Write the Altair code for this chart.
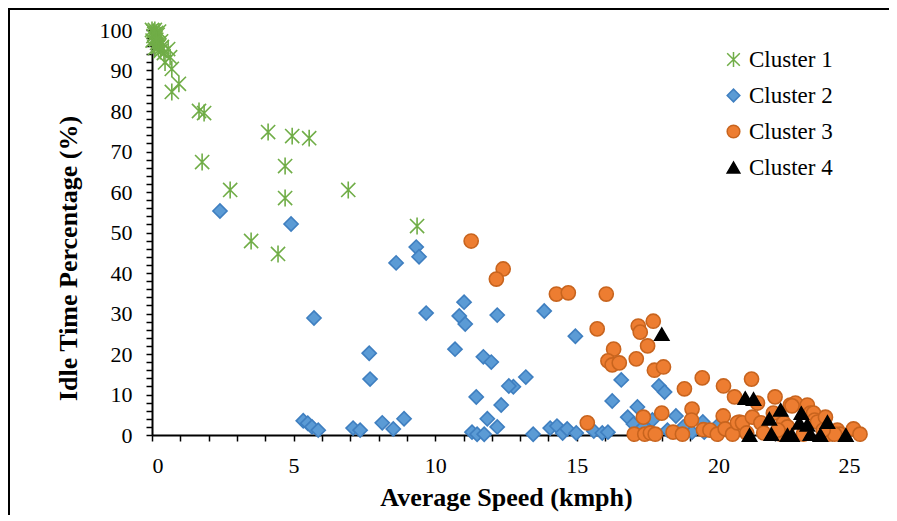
import altair as alt
import pandas as pd

clusters = ["Cluster 1", "Cluster 2", "Cluster 3", "Cluster 4"]

c1_x = [0.00, 0.05, 0.10, 0.15, 0.05, 0.12, 0.20, 0.02, 0.18, 0.26, 0.32, 0.10, 0.30, 0.42, 0.22, 0.08, 0.25, 0.35, 0.15,
        0.57, 0.64, 0.46, 0.70, 0.95, 0.70, 1.66, 1.84, 4.10, 4.95, 5.55, 1.77, 4.70, 2.76, 6.93, 4.70, 9.36, 3.50, 4.45]
c1_y = [100.0, 99.6, 100.0, 99.3, 98.5, 98.0, 98.8, 97.4, 96.8, 96.2, 97.2, 95.5, 94.8, 94.3, 95.8, 99.0, 99.6, 95.8, 97.6,
        95.3, 93.3, 92.0, 90.4, 86.7, 84.7, 80.0, 79.5, 74.8, 73.8, 73.3, 67.4, 66.4, 60.5, 60.5, 58.5, 51.6, 47.9, 44.7]

c2_x = [2.40, 4.91, 5.72, 9.33, 9.43, 8.62, 9.68, 11.02, 10.85, 11.06, 12.19, 13.85, 14.95, 7.67, 7.70, 10.70, 11.70,
        11.98, 13.20, 12.76, 12.60, 11.45, 12.33, 11.84, 12.19, 8.90, 8.13, 8.52, 7.10, 7.35, 11.30, 11.48, 11.73, 13.46,
        14.06, 14.30, 14.50, 14.66, 14.98, 5.34, 5.50, 5.65, 5.87, 15.60, 15.90, 16.10, 16.57, 16.25, 17.90, 18.10, 17.14,
        16.80, 17.00, 18.50, 19.45, 17.67, 18.20, 18.76, 19.07, 20.00, 17.35, 19.50]
c2_y = [55.3, 52.1, 28.9, 46.4, 44.0, 42.5, 30.1, 32.8, 29.4, 27.4, 29.6, 30.6, 24.4, 20.2, 13.8, 21.2, 19.3,
        18.0, 14.3, 11.9, 12.1, 9.4, 7.4, 4.0, 2.0, 4.0, 3.0, 1.5, 1.7, 1.2, 0.7, 0.2, 0.2, 0.2,
        1.7, 2.2, 0.5, 1.5, 0.5, 3.5, 2.9, 2.0, 1.2, 1.0, 0.5, 0.7, 13.6, 8.4, 12.1, 10.6, 6.9,
        4.4, 2.7, 4.7, 3.2, 3.7, 1.2, 2.0, 0.7, 2.5, 2.0, 0.7]

c3_x = [11.27, 12.40, 12.16, 14.28, 14.70, 16.04, 15.72, 17.17, 17.24, 17.70, 17.50, 16.30, 16.10, 16.25, 16.50, 17.10,
        17.74, 18.06, 18.80, 19.43, 20.18, 20.57, 21.17, 21.38, 22.00, 15.37, 17.35, 18.00, 19.07, 19.05, 20.17, 20.74,
        17.03, 17.40, 17.60, 17.77, 18.40, 18.73, 19.47, 19.70, 19.96, 20.24, 20.50, 20.67, 20.85, 21.20, 21.50, 21.60,
        21.94, 22.30, 22.44, 22.54, 22.72, 22.60, 23.14, 23.25, 23.36, 23.40, 23.50, 23.78, 23.96, 24.20, 24.30, 24.77,
        25.00, 21.00, 22.20, 23.00, 23.90, 24.10, 22.10, 23.70]
c3_y = [47.9, 41.0, 38.5, 34.8, 35.1, 34.8, 26.2, 26.9, 25.4, 28.1, 22.0, 21.2, 18.3, 17.3, 17.8, 18.8,
        16.0, 16.8, 11.4, 14.1, 12.1, 9.4, 13.8, 7.9, 9.4, 3.0, 4.4, 5.4, 6.4, 3.7, 4.7, 3.2,
        0.2, 0.2, 0.5, 0.2, 0.7, 0.2, 1.3, 1.2, 0.2, 1.5, 0.2, 3.0, 3.0, 4.4, 3.0, 0.5,
        5.4, 3.0, 2.0, 7.4, 7.9, 7.2, 7.4, 5.4, 5.4, 3.7, 3.2, 4.4, 0.5, 1.2, 0.2, 1.5,
        0.2, 0.5, 0.2, 0.2, 0.2, 0.2, 1.2, 1.2]

c4_x = [18.00, 20.95, 21.24, 22.20, 21.80, 22.93, 23.14, 22.86, 23.85, 21.10, 21.87, 22.44, 22.60, 23.25, 23.60, 24.50]
c4_y = [24.9, 9.1, 8.9, 6.2, 4.0, 5.4, 2.5, 3.0, 3.2, 0.0, 0.2, 0.0, 0.0, 0.2, 0.0, 0.0]

x_ticks = list(range(0, 26))
y_ticks = list(range(0, 101, 2))

frames = []
for name, xs, ys in zip(clusters, [c1_x, c2_x, c3_x, c4_x], [c1_y, c2_y, c3_y, c4_y]):
    frames.append(pd.DataFrame({"speed": xs, "idle": ys, "Cluster": name}))
df = pd.concat(frames, ignore_index=True)

asterisk = "M-1,-1L1,1M-1,1L1,-1M0,-1.2L0,1.2"
fill_colors = ["#70AD47", "#5B9BD5", "#ED7D31", "#000000"]
stroke_colors = ["#70AD47", "#3F7FC0", "#C8641E", "#000000"]
shapes = [asterisk, "diamond", "circle", "triangle-up"]

font = "Liberation Serif"

legend = alt.Legend(orient="none", legendX=570, legendY=18, labelFont=font, labelFontSize=23,
                    labelColor="black", symbolSize=160, rowPadding=12, labelOffset=4,
                    symbolStrokeWidth=1.5)

points = alt.Chart(df).mark_point(filled=True, size=200, strokeWidth=1.6, opacity=1).encode(
    x=alt.X("speed:Q", scale=alt.Scale(domain=[0, 25], nice=False),
            axis=alt.Axis(title="Average Speed (kmph)", values=x_ticks,
                          labelExpr="datum.value % 5 == 0 ? datum.label : ''",
                          grid=False, tickSize=6, labelPadding=14, titlePadding=8)),
    y=alt.Y("idle:Q", scale=alt.Scale(domain=[0, 100], nice=False),
            axis=alt.Axis(title="Idle Time Percentage (%)", values=y_ticks,
                          labelExpr="datum.value % 10 == 0 ? datum.label : ''",
                          grid=False, tickSize=6, labelPadding=14,
                          titleX=-84, titleY=228, titleBaseline="middle")),
    fill=alt.Fill("Cluster:N", scale=alt.Scale(domain=clusters, range=fill_colors), title=None, legend=legend),
    stroke=alt.Stroke("Cluster:N", scale=alt.Scale(domain=clusters, range=stroke_colors), title=None, legend=legend),
    shape=alt.Shape("Cluster:N", scale=alt.Scale(domain=clusters, range=shapes), title=None, legend=legend),
    order=alt.Order("order_idx:Q"),
).transform_calculate(order_idx="datum.Cluster == 'Cluster 1' ? 1 : datum.Cluster == 'Cluster 2' ? 2 : datum.Cluster == 'Cluster 3' ? 3 : 4")

frame_left = alt.Chart(pd.DataFrame({"a": [0]})).mark_rule(color="black", strokeWidth=2).encode(
    x=alt.value(-143), y=alt.value(-22), y2=alt.value(500))
frame_top = alt.Chart(pd.DataFrame({"a": [0]})).mark_rule(color="black", strokeWidth=2).encode(
    x=alt.value(-143), x2=alt.value(737), y=alt.value(-21))

chart = alt.layer(points, frame_left, frame_top).properties(
    width=708, height=405,
    autosize=alt.AutoSizeParams(type="none"),
    padding={"left": 144, "top": 22, "right": 29, "bottom": 80},
).configure_view(stroke=None).configure_axis(
    domainColor="black", domainWidth=2, tickColor="black", tickWidth=1.5,
    labelFont=font, labelFontSize=22, labelColor="black",
    titleFont=font, titleFontSize=26, titleFontWeight="bold", titleColor="black",
)

chart.save("out.html", embed_options={"renderer": "svg", "actions": False})
